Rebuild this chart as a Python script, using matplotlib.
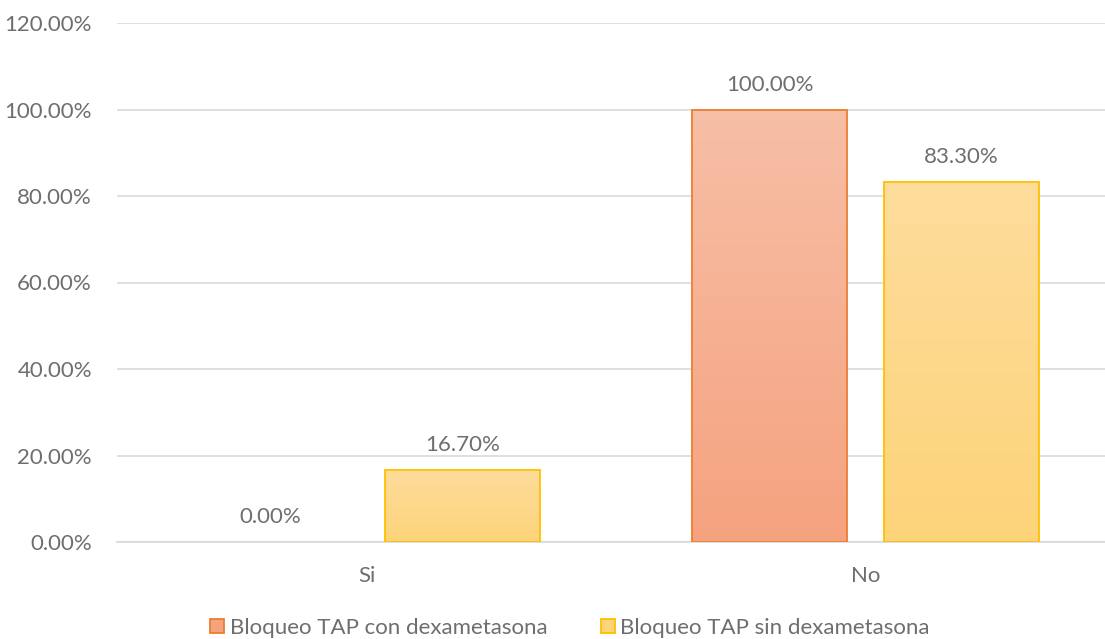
import matplotlib
matplotlib.use("Agg")
import matplotlib.pyplot as plt
import numpy as np
from matplotlib.colors import LinearSegmentedColormap
from matplotlib.patches import Patch

categories = ["Si", "No"]
series_names = ["Bloqueo TAP con dexametasona", "Bloqueo TAP sin dexametasona"]
con_dexa = [0.0, 100.0]
sin_dexa = [16.7, 83.3]
yticks = [0, 20, 40, 60, 80, 100, 120]

plt.rcParams['font.family'] = ['Lato', 'DejaVu Sans']
txt = '#6E6E6E'
fs = 16

fig = plt.figure(figsize=(11.05, 6.39), dpi=100)
ax = fig.add_axes([117/1105, 97/639, 998/1105, 519/639])

x = np.arange(len(categories))
w = 0.31
off = 0.192
styles = [
    dict(top='#F7BFA6', bot='#F5A27F', edge='#ED7D31'),
    dict(top='#FEDC9C', bot='#FDD47A', edge='#FFC000'),
]
for i, (vals, st) in enumerate(zip([con_dexa, sin_dexa], styles)):
    pos = x + (-off if i == 0 else off)
    bars = ax.bar(pos, vals, width=w, facecolor='none', edgecolor=st['edge'],
                  linewidth=1.3, zorder=3)
    cmap = LinearSegmentedColormap.from_list('g%d' % i, [st['bot'], st['top']])
    for b, v in zip(bars, vals):
        if v > 0:
            bx, by = b.get_x(), b.get_y()
            bw, bh = b.get_width(), b.get_height()
            grad = np.linspace(0, 1, 256).reshape(-1, 1)
            im = ax.imshow(grad, cmap=cmap, origin='lower', aspect='auto',
                           extent=[bx, bx + bw, by, by + bh], zorder=2)
            im.set_clip_path(b)
        else:
            b.set_linewidth(0)
        ax.annotate(f"{v:.2f}%", (b.get_x() + b.get_width() / 2, v),
                    xytext=(0, 13.5), textcoords='offset points',
                    ha='center', va='baseline', fontsize=fs, color=txt, zorder=4)

ax.set_xlim(-0.5, 1.5)
ax.set_ylim(0, 120)
ax.set_yticks(yticks)
ax.set_yticklabels([f"{t:.2f}%" for t in yticks])
ax.set_xticks(x)
ax.set_xticklabels(categories)
ax.tick_params(axis='both', length=0, labelsize=fs, colors=txt)
ax.tick_params(axis='y', pad=18)
ax.tick_params(axis='x', pad=17)
ax.grid(axis='y', color='#D9D9D9', linewidth=1.2, zorder=0)
ax.set_axisbelow(True)
for s in ['top', 'right', 'left']:
    ax.spines[s].set_visible(False)
ax.spines['bottom'].set_color('#D9D9D9')
ax.spines['bottom'].set_linewidth(1.2)

handles = [Patch(facecolor=st['bot'], edgecolor=st['edge'], linewidth=1.3) for st in styles]
fig.legend(handles, series_names, loc='center', bbox_to_anchor=(570/1105, 1 - 628/639),
           ncol=2, frameon=False, fontsize=fs, labelcolor=txt,
           handlelength=0.63, handleheight=0.63, handletextpad=0.25, columnspacing=2.4,
           borderpad=0, borderaxespad=0)

fig.savefig('out.png', dpi=100)
